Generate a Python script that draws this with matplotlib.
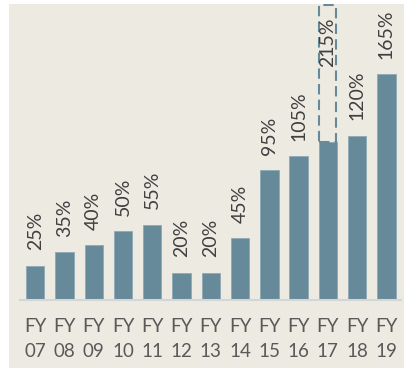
import matplotlib.pyplot as plt
from matplotlib.patches import Rectangle

# Growth by fiscal year (%)
years = ['07', '08', '09', '10', '11', '12', '13', '14', '15', '16', '17', '18', '19']
values = [25, 35, 40, 50, 55, 20, 20, 45, 95, 105, 115, 120, 165]
one_off = [0, 0, 0, 0, 0, 0, 0, 0, 0, 0, 100, 0, 0]  # FY17 extra, shown dashed
labels = ['25%', '35%', '40%', '50%', '55%', '20%', '20%', '45%', '95%', '105%', '215%', '120%', '165%']

bar_color = '#668A9A'
panel_color = '#EDEBE1'
text_color = '#404040'

plt.rcParams['font.family'] = ['Lato', 'DejaVu Sans']

fig = plt.figure(figsize=(4.04, 3.68), dpi=100)
fig.patch.set_facecolor('white')
fig.add_artist(Rectangle((9 / 404, 0), 1, 364 / 368, transform=fig.transFigure,
                         facecolor=panel_color, edgecolor='none', zorder=0))

ax = fig.add_axes([20 / 404, 68 / 368, 381 / 404, 296 / 368])
ax.set_facecolor('none')

x = list(range(len(years)))
bars = ax.bar(x, values, width=0.63, color=bar_color, edgecolor='#8FA9B5',
              linewidth=0.6, zorder=2)
ax.bar(x, one_off, width=0.58, bottom=values, facecolor='none',
       edgecolor=[bar_color if v else 'none' for v in one_off],
       linewidth=1.5, linestyle=(0, (5, 2.5)), zorder=2)

for i, (v, extra, lab) in enumerate(zip(values, one_off, labels)):
    if extra:
        ax.annotate(lab, (i, v + extra), xytext=(0, -9), textcoords='offset points',
                    rotation=90, ha='center', va='top', fontsize=14, color=text_color)
    else:
        ax.annotate(lab, (i, v), xytext=(0, 11), textcoords='offset points',
                    rotation=90, ha='center', va='bottom', fontsize=14, color=text_color)

ax.set_xlim(-0.52, 12.5)
ax.set_ylim(0, 216)
ax.set_xticks(x)
ax.set_xticklabels(['FY\n' + y for y in years], fontsize=13.5, color='#595959',
                   linespacing=1.55)
ax.tick_params(axis='x', length=0, pad=13)
ax.set_yticks([])
for side in ['top', 'right', 'left']:
    ax.spines[side].set_visible(False)
ax.spines['bottom'].set_color('#D3D5D6')
ax.spines['bottom'].set_linewidth(1.5)

fig.savefig('out.png', dpi=100, facecolor=fig.get_facecolor())
